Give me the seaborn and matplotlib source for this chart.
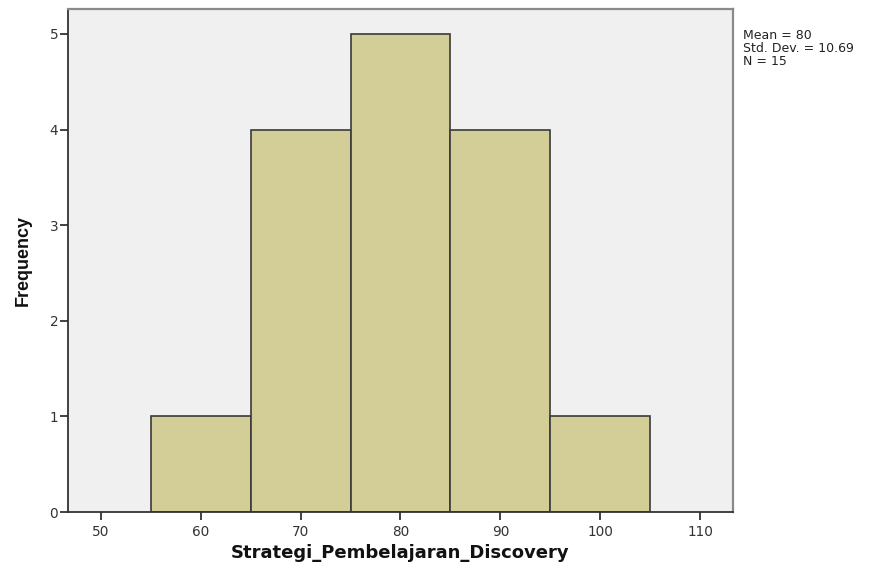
import seaborn as sns
import matplotlib.pyplot as plt

# SPSS histogram of Strategi_Pembelajaran_Discovery
bin_edges = [55, 65, 75, 85, 95, 105]
bin_mids = [60, 70, 80, 90, 100]
counts = [1, 4, 5, 4, 1]
x_ticks = [50, 60, 70, 80, 90, 100, 110]
y_ticks = [0, 1, 2, 3, 4, 5]
stats_lines = ["Mean = 80", "Std. Dev. = 10.69", "N = 15"]

sns.set_style("white")
plt.rcParams['font.family'] = ['DejaVu Sans']

fig = plt.figure(figsize=(8.77, 5.66), dpi=100)
ax = fig.add_axes([0.0775, 0.0954, 0.7583, 0.8886])
ax.set_facecolor('#f0f0f0')

sns.histplot(x=bin_mids, weights=counts, bins=bin_edges, ax=ax,
             color='#d3ce97', alpha=1, edgecolor='#3a3a3a', linewidth=1.2)

ax.set_xlim(46.7, 113.3)
ax.set_ylim(0, 5.26)
ax.set_xticks(x_ticks)
ax.set_yticks(y_ticks)
ax.tick_params(axis='both', direction='out', length=6, width=1.3,
               bottom=True, left=True, colors='#333333',
               labelsize=9.8, labelcolor='#333333')
ax.tick_params(axis='x', pad=3)
ax.tick_params(axis='y', pad=1)

for side in ['left', 'bottom']:
    ax.spines[side].set_color('#333333')
    ax.spines[side].set_linewidth(1.3)
for side in ['top', 'right']:
    ax.spines[side].set_visible(True)
    ax.spines[side].set_color('#8a8a8a')
    ax.spines[side].set_linewidth(1.6)

ax.set_xlabel('Strategi_Pembelajaran_Discovery', fontsize=13, fontweight='bold',
              labelpad=4, color='#111111')
ax.set_ylabel('Frequency', fontsize=13, fontweight='bold', color='#111111',
              family=['Liberation Sans Narrow', 'Liberation Sans'],
              labelpad=13)

for i, line in enumerate(stats_lines):
    fig.text(0.847, 0.937 - i * 0.0225, line, fontsize=9, va='center', ha='left',
             color='#222222')

fig.savefig('out.png', dpi=100)
